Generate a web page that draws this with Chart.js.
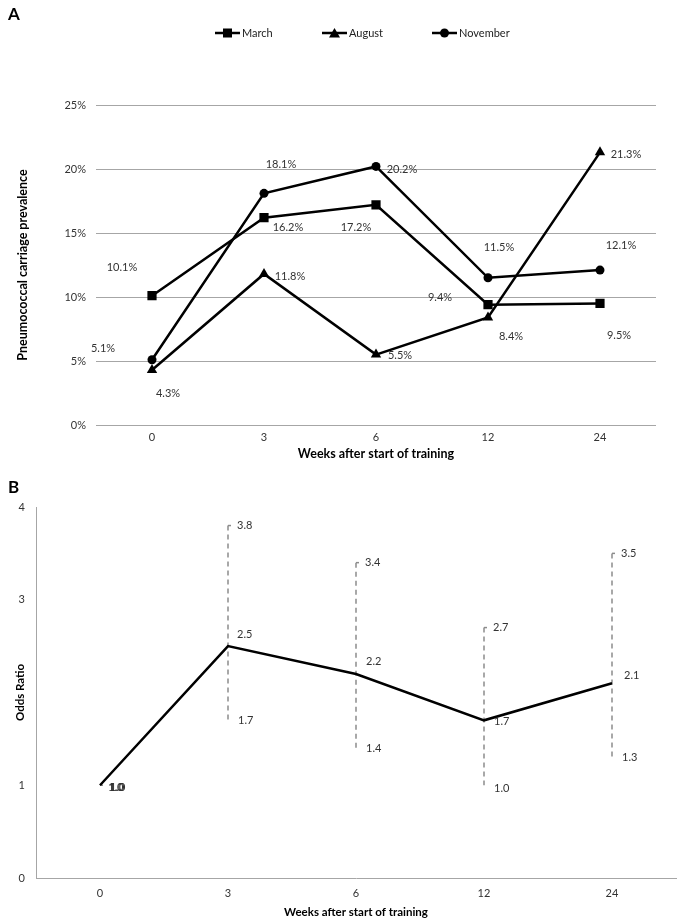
<!DOCTYPE html>
<html>
<head>
<meta charset="utf-8">
<script src="https://cdn.jsdelivr.net/npm/chart.js@4.4.0/dist/chart.umd.min.js"></script>
<style>
    body { margin: 0; background: #fff; font-family: Lato, "Liberation Sans", sans-serif; }
    #wrap { position: relative; width: 681px; height: 922px; }
    canvas { position: absolute; left: 0; }
    .panel { position: absolute; left: 8px; font-weight: bold; font-size: 17px; color: #000; }
    .item { position: absolute; top: 26px; display: flex; align-items: center; font-size: 11px; color: #222; white-space: nowrap; }
    .item svg { margin-right: 2px; }
</style>
</head>
<body>
<div id="wrap">
    <canvas id="chartA" width="681" height="470" style="top:0"></canvas>
    <canvas id="chartB" width="681" height="452" style="top:470px"></canvas>
    <div class="panel" style="top:3px">A</div>
    <div class="panel" style="top:476px">B</div>
    <div id="legend"></div>
</div>
<script>
// du lieu doc tu hinh
var weeks = ['0', '3', '6', '12', '24'];
var march = [10.1, 16.2, 17.2, 9.4, 9.5];
var august = [4.3, 11.8, 5.5, 8.4, 21.3];
var november = [5.1, 18.1, 20.2, 11.5, 12.1];

var oddsRatio = [1.0, 2.5, 2.2, 1.7, 2.1];
var ciLower = [1.0, 1.7, 1.4, 1.0, 1.3];
var ciUpper = [1.0, 3.8, 3.4, 2.7, 3.5];
var orTicks = [0, 1, 3, 4];

var tickFont = { family: 'Lato', size: 11 };
var titleFontA = { family: 'Lato', size: 12.5, weight: 'bold' };
var titleFontB = { family: 'Lato', size: 11.5, weight: 'bold' };
var textColor = '#333';

// legend (HTML) - line + marker
var legendItems = [
    { name: 'March', marker: 'rect', left: 215 },
    { name: 'August', marker: 'triangle', left: 322 },
    { name: 'November', marker: 'circle', left: 432 }
];
legendItems.forEach(function(it) {
    var m = '';
    if (it.marker == 'rect') m = '<rect x="8" y="1.5" width="9" height="9" fill="#000"/>';
    if (it.marker == 'triangle') m = '<polygon points="12.5,1 18,10.5 7,10.5" fill="#000"/>';
    if (it.marker == 'circle') m = '<circle cx="12.5" cy="6" r="4.5" fill="#000"/>';
    var div = document.createElement('div');
    div.className = 'item';
    div.style.left = it.left + 'px';
    div.innerHTML = '<svg width="25" height="12"><line x1="0" y1="6" x2="25" y2="6" stroke="#000" stroke-width="2.5"/>' + m + '</svg>' + it.name;
    document.getElementById('legend').appendChild(div);
});

// nhan gia tri tren tung diem (panel A)
var ptLabels = {
    id: 'ptLabels',
    afterDatasetsDraw: function(chart, args, opts) {
        var ctx = chart.ctx;
        ctx.save();
        ctx.font = '11px Lato';
        ctx.fillStyle = textColor;
        ctx.textAlign = 'center';
        ctx.textBaseline = 'middle';
        chart.data.datasets.forEach(function(ds, di) {
            var meta = chart.getDatasetMeta(di);
            meta.data.forEach(function(pt, i) {
                var off = opts.offsets[di][i];
                ctx.fillText(ds.data[i].toFixed(1) + '%', pt.x + off[0], pt.y + off[1]);
            });
        });
        ctx.restore();
    }
};

function serie(name, values, style, radius) {
    return {
        label: name,
        data: values,
        borderColor: '#000',
        backgroundColor: '#000',
        borderWidth: 2.5,
        pointStyle: style,
        pointRadius: radius,
        pointBackgroundColor: '#000',
        pointBorderColor: '#000',
        pointBorderWidth: 0,
        tension: 0
    };
}

new Chart(document.getElementById('chartA'), {
    type: 'line',
    data: {
        labels: weeks,
        datasets: [
            serie('March', march, 'rect', 6.5),
            serie('August', august, 'triangle', 6),
            serie('November', november, 'circle', 4.5)
        ]
    },
    options: {
        responsive: false,
        animation: false,
        layout: { padding: { top: 105, right: 25, left: 0, bottom: 0 } },
        plugins: {
            legend: { display: false },
            tooltip: { enabled: false },
            ptLabels: {
                offsets: [
                    [[-30, -28], [24, 10], [-20, 23], [-48, -7], [19, 32]],
                    [[16, 23], [26, 2], [24, 1], [23, 19], [26, 2]],
                    [[-49, -11], [17, -29], [26, 3], [11, -30], [21, -25]]
                ]
            }
        },
        scales: {
            x: {
                offset: true,
                grid: { display: false, drawTicks: false },
                border: { display: false },
                ticks: { font: tickFont, color: textColor, padding: 6 },
                title: { display: true, text: 'Weeks after start of training', font: titleFontA, color: '#000', padding: { top: 0, bottom: 9 } },
                afterFit: function(s) { s.height = 45; }
            },
            y: {
                min: 0,
                max: 25,
                ticks: {
                    stepSize: 5,
                    font: tickFont,
                    color: textColor,
                    padding: 10,
                    callback: function(v) { return v + '%'; }
                },
                grid: { color: '#a6a6a6', drawTicks: false },
                border: { display: false },
                title: { display: true, text: 'Pneumococcal carriage prevalence', font: titleFontA, color: '#000', padding: { top: 15, bottom: 0 } },
                afterFit: function(s) { s.width = 96; }
            }
        }
    },
    plugins: [ptLabels]
});

// khoang tin cay (panel B) - net dut mau xam + nhan
var ciBars = {
    id: 'ciBars',
    beforeDatasetsDraw: function(chart) {
        var ctx = chart.ctx;
        var xs = chart.scales.x, ys = chart.scales.y;
        ctx.save();
        ctx.strokeStyle = '#8c8c8c';
        ctx.lineWidth = 1.5;
        weeks.forEach(function(w, i) {
            var x = xs.getPixelForValue(i);
            var yTop = ys.getPixelForValue(ciUpper[i]);
            var yBot = ys.getPixelForValue(ciLower[i]);
            ctx.setLineDash([5, 4]);
            ctx.beginPath();
            ctx.moveTo(x, yTop);
            ctx.lineTo(x, yBot);
            ctx.stroke();
            ctx.setLineDash([]);
            ctx.beginPath();
            ctx.moveTo(x, yTop);
            ctx.lineTo(x + 3, yTop);
            ctx.stroke();
        });
        ctx.restore();
    },
    afterDatasetsDraw: function(chart, args, opts) {
        var ctx = chart.ctx;
        var xs = chart.scales.x, ys = chart.scales.y;
        ctx.save();
        ctx.font = '11px Lato';
        ctx.fillStyle = textColor;
        ctx.textAlign = 'left';
        ctx.textBaseline = 'middle';
        weeks.forEach(function(w, i) {
            var x = xs.getPixelForValue(i);
            ctx.fillText(ciUpper[i].toFixed(1), x + opts.upperDx, ys.getPixelForValue(ciUpper[i]) + opts.upperDy[i]);
            ctx.fillText(ciLower[i].toFixed(1), x + opts.lowerDx, ys.getPixelForValue(ciLower[i]) + opts.lowerDy[i]);
            ctx.fillText(oddsRatio[i].toFixed(1), x + opts.midDx[i], ys.getPixelForValue(oddsRatio[i]) + opts.midDy[i]);
        });
        ctx.restore();
    }
};

new Chart(document.getElementById('chartB'), {
    type: 'line',
    data: {
        labels: weeks,
        datasets: [{
            label: 'Odds Ratio',
            data: oddsRatio,
            borderColor: '#000',
            backgroundColor: '#000',
            borderWidth: 2.5,
            pointRadius: 0,
            tension: 0
        }]
    },
    options: {
        responsive: false,
        animation: false,
        layout: { padding: { top: 37, right: 5, left: 0, bottom: 0 } },
        plugins: {
            legend: { display: false },
            tooltip: { enabled: false },
            ciBars: {
                upperDx: 9,
                upperDy: [2, 0, 0, 0, 0],
                lowerDx: 10,
                lowerDy: [2, 0, 0, 3, 0],
                midDx: [8, 9, 10, 10, 12],
                midDy: [2, -12, -12, 1, -8]
            }
        },
        scales: {
            x: {
                offset: true,
                grid: { display: false, drawTicks: false },
                border: { display: true, color: '#a6a6a6', width: 1 },
                ticks: { font: tickFont, color: textColor, padding: 9 },
                title: { display: true, text: 'Weeks after start of training', font: titleFontB, color: '#000', padding: { top: 0, bottom: 3 } },
                afterFit: function(s) { s.height = 44; }
            },
            y: {
                min: 0,
                max: 4,
                afterBuildTicks: function(s) {
                    s.ticks = orTicks.map(function(v) { return { value: v }; });
                },
                ticks: { font: tickFont, color: textColor, padding: 11 },
                grid: { display: false, drawTicks: false },
                border: { display: true, color: '#a6a6a6', width: 1 },
                title: { display: true, text: 'Odds Ratio', font: titleFontB, color: '#000', padding: { top: 13, bottom: 0 } },
                afterFit: function(s) { s.width = 36; }
            }
        }
    },
    plugins: [ciBars]
});
</script>
</body>
</html>
